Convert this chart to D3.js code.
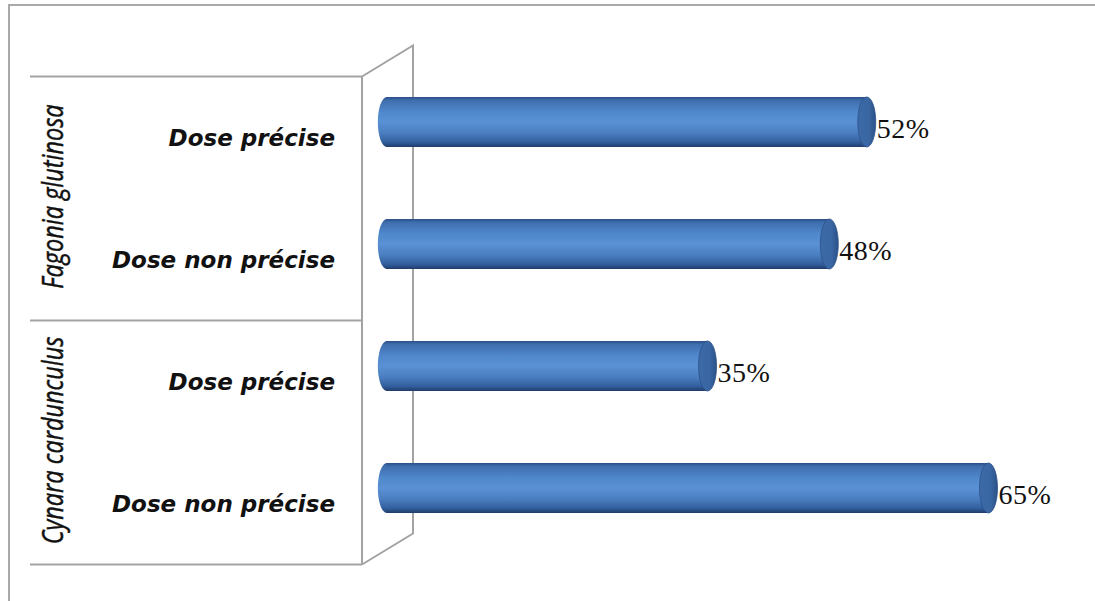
<!DOCTYPE html>
<html>
<head>
<meta charset="utf-8">
<script src="https://cdn.jsdelivr.net/npm/d3@7"></script>
<style>
  html, body { margin: 0; padding: 0; background: #fff; }
  svg { display: block; }
</style>
</head>
<body>
<svg id="chart" width="1095" height="601"></svg>
<script>
/* Horizontal 3D cylinder bar chart */

const groups = ["Fagonia glutinosa", "Cynara cardunculus"];
const categories = ["FG-precise", "FG-nonprecise", "CC-precise", "CC-nonprecise"];
const categoryLabels = ["Dose précise", "Dose non précise", "Dose précise", "Dose non précise"];
const values = [52, 48, 35, 65];
const valueLabels = ["52%", "48%", "35%", "65%"];

const depth = { dx: 51, dy: -31 };   // perspective offset of the back wall
const frontX = 362;                   // right edge of the label panel
const barH = 50;
const capRx = 9;

const svg = d3.select("#chart");

const defs = svg.append("defs");
const bodyGrad = defs.append("linearGradient")
  .attr("id", "bodyGrad").attr("x1", 0).attr("y1", 0).attr("x2", 0).attr("y2", 1);
[[0, "#2a4f86"], [0.07, "#3f6eae"], [0.3, "#5088cc"], [0.5, "#5a91d5"],
 [0.72, "#4a7ec0"], [0.9, "#33609f"], [1, "#1f3c6a"]]
  .forEach(([o, c]) => bodyGrad.append("stop").attr("offset", o).attr("stop-color", c));

const capGrad = defs.append("linearGradient")
  .attr("id", "capGrad").attr("x1", 0).attr("y1", 0).attr("x2", 1).attr("y2", 0);
[[0, "#3b6aa8"], [0.6, "#3a67a3"], [1, "#2b5188"]]
  .forEach(([o, c]) => capGrad.append("stop").attr("offset", o).attr("stop-color", c));

// scales
const x = d3.scaleLinear().domain([0, 65]).range([388.8, 997.5]);
const y = d3.scaleBand().domain(categories).range([61, 549]).paddingInner(0.59).paddingOuter(0.295);

const frontOff = -depth.dy / 2;  // labels / panel sit on the front plane
const rangeTop = y.range()[0], rangeBot = y.range()[1];
const groupBounds = [rangeTop, rangeTop + y.step() * 2, rangeBot];

// outer frame
svg.append("path")
  .attr("d", `M9,601 L9,5 L1095,5`)
  .attr("fill", "none").attr("stroke", "#a9a9a9").attr("stroke-width", 2);

const lineColor = "#a3a3a3";

// back wall
const wall = svg.append("g").attr("fill", "none").attr("stroke", lineColor).attr("stroke-width", 2);
const yTopF = groupBounds[0] + frontOff, yBotF = groupBounds[2] + frontOff;
wall.append("path")
  .attr("d", `M${frontX},${yTopF} L${frontX + depth.dx},${yTopF + depth.dy} L${frontX + depth.dx},${yBotF + depth.dy} L${frontX},${yBotF}`);

// label panel lines
groupBounds.forEach(b => {
  wall.append("line")
    .attr("x1", 30).attr("x2", frontX)
    .attr("y1", b + frontOff).attr("y2", b + frontOff);
});
wall.append("line")
  .attr("x1", frontX).attr("x2", frontX)
  .attr("y1", yTopF).attr("y2", yBotF);

// cylinders
const bars = svg.append("g");
categories.forEach((c, i) => {
  const top = y(c), bot = top + barH, cy = top + barH / 2;
  const xL = x(0) - 11 + capRx;
  const xR = x(values[i]) - capRx;
  const ry = barH / 2;
  bars.append("path")
    .attr("d", `M${xL},${top} L${xR},${top} L${xR},${bot} L${xL},${bot} A${capRx},${ry} 0 0 1 ${xL},${top} Z`)
    .attr("fill", "url(#bodyGrad)");
  bars.append("ellipse")
    .attr("cx", xR).attr("cy", cy).attr("rx", capRx).attr("ry", ry)
    .attr("fill", "url(#capGrad)")
    .attr("stroke", "#2d5189").attr("stroke-width", 0.8);

  svg.append("text")
    .attr("x", x(values[i]) + 1)
    .attr("y", cy + 16)
    .attr("font-family", "'Liberation Serif', 'Times New Roman', serif")
    .attr("font-size", 28)
    .attr("letter-spacing", 0.5)
    .attr("fill", "#111")
    .text(valueLabels[i]);

  svg.append("text")
    .attr("x", 335)
    .attr("y", cy + 24)
    .attr("text-anchor", "end")
    .attr("font-family", "'DejaVu Sans', Verdana, sans-serif")
    .attr("font-weight", "bold")
    .attr("font-style", "italic")
    .attr("font-size", 23)
    .attr("fill", "#111")
    .text(categoryLabels[i]);
});

// group labels (rotated)
groups.forEach((g, gi) => {
  const cy = (groupBounds[gi] + groupBounds[gi + 1]) / 2 + frontOff - 2;
  svg.append("text")
    .attr("transform", `translate(63,${cy}) rotate(-90) scale(1,1.25)`)
    .attr("text-anchor", "middle")
    .attr("font-family", "'Open Sans', sans-serif")
    .attr("font-style", "italic")
    .attr("font-size", 23.5)
    .attr("stroke", "#111").attr("stroke-width", 0.4)
    .attr("fill", "#111")
    .text(g);
});
</script>
</body>
</html>
